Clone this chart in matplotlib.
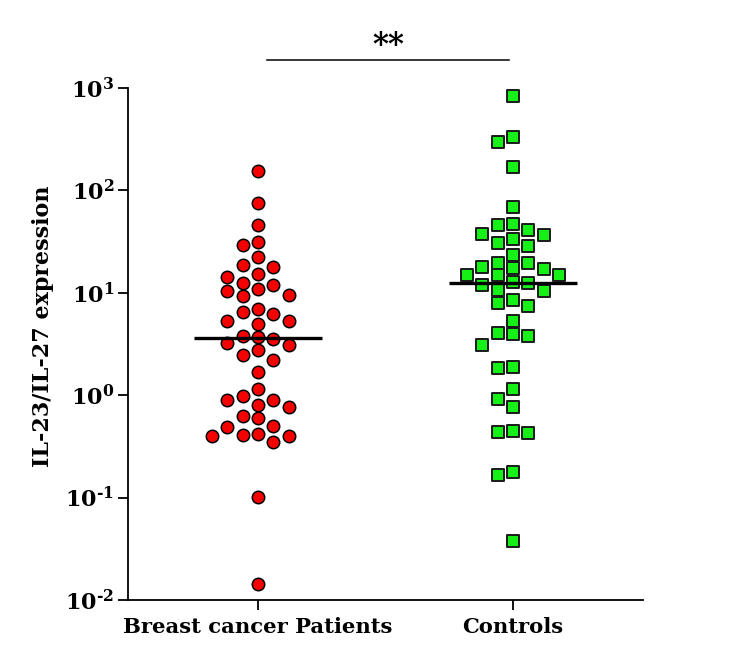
import numpy as np
import matplotlib
matplotlib.use('Agg')
import matplotlib.pyplot as plt
from matplotlib.ticker import FixedLocator, FuncFormatter, NullLocator
from matplotlib.transforms import blended_transform_factory

plt.rcParams['font.family'] = 'DejaVu Serif'
plt.rcParams['font.weight'] = 'bold'
plt.rcParams['mathtext.fontset'] = 'custom'
plt.rcParams['mathtext.bf'] = 'DejaVu Serif:bold'
plt.rcParams['mathtext.rm'] = 'DejaVu Serif:bold'

groups = ['Breast cancer Patients', 'Controls']

patients = [155, 75.5, 46, 31, 29, 22.4, 18.5, 17.7, 15.2, 14.4, 12.6, 12.0,
            10.9, 10.5, 9.58, 9.23, 6.87, 6.53, 6.21, 5.34, 5.34, 4.92, 3.79,
            3.67, 3.53, 3.26, 3.11, 2.76, 2.45, 2.21, 1.70, 1.14, 0.975, 0.904,
            0.891, 0.807, 0.762, 0.627, 0.594, 0.496, 0.492, 0.418, 0.408,
            0.399, 0.399, 0.351, 0.1016, 0.0143]

controls = [841, 334, 297, 168, 68.9, 47.0, 45.9, 41.0, 37.5, 36.9, 33.3,
            30.9, 28.8, 23.5, 19.5, 19.4, 17.9, 17.3, 17.2, 15.0, 14.9, 14.8,
            12.7, 12.5, 12.0, 10.6, 10.5, 8.51, 7.95, 7.43, 5.27, 4.02, 3.96,
            3.79, 3.11, 1.90, 1.86, 1.14, 0.918, 0.772, 0.444, 0.437, 0.425,
            0.179, 0.166, 0.0377]

yticks = [1e-2, 1e-1, 1e0, 1e1, 1e2, 1e3]
sig_label = '**'

W, H = 729, 662
fig = plt.figure(figsize=(W / 100, H / 100), dpi=100)
ax_l, ax_r, ax_t, ax_b = 128, 643, 88, 600
ax = fig.add_axes([ax_l / W, 1 - ax_b / H, (ax_r - ax_l) / W, (ax_b - ax_t) / H])

xmin, xmax = -0.51, 1.51
ax.set_xlim(xmin, xmax)
ax.set_yscale('log')
ax.set_ylim(1e-2, 1e3)

# pixel geometry used to lay out the swarm
decade_px = (ax_b - ax_t) / 5.0
col_step = 15.4 * (xmax - xmin) / (ax_r - ax_l)


def swarm(values, gap_px=12.2):
    ypix = np.log10(values) * decade_px
    cols = np.zeros(len(values))
    placed = []
    for i in np.argsort(-ypix):
        for c in [0, -1, 1, -2, 2, -3, 3, -4, 4, -5, 5]:
            if all(abs(ypix[i] - yp) >= gap_px for yp, cc in placed if cc == c):
                break
        cols[i] = c
        placed.append((ypix[i], c))
    return cols * col_step


styles = [dict(marker='o', s=80, c='#f50000', edgecolors='black', linewidths=1.1),
          dict(marker='s', s=66, c='#16f016', edgecolors='#1a1a1a', linewidths=1.4)]

for i, (vals, st) in enumerate(zip([patients, controls], styles)):
    vals = np.array(vals)
    ax.scatter(i + swarm(vals), vals, zorder=3, **st)
    ax.hlines(np.median(vals), i - 0.25, i + 0.25, color='black', lw=2.4, zorder=4)

ax.spines['top'].set_visible(False)
ax.spines['right'].set_visible(False)
for s in ['left', 'bottom']:
    ax.spines[s].set_linewidth(1.3)

ax.xaxis.set_major_locator(FixedLocator([0, 1]))
ax.set_xticklabels(groups, fontsize=15.2, fontweight='bold')
ax.yaxis.set_major_locator(FixedLocator(yticks))
ax.yaxis.set_minor_locator(NullLocator())
ax.yaxis.set_major_formatter(FuncFormatter(
    lambda v, p: r'$\mathbf{10^{\text{%d}}}$' % round(np.log10(v))))
ax.tick_params(axis='y', labelsize=16, length=7, width=1.3, pad=3)
ax.tick_params(axis='x', length=7, width=1.3, pad=5)
ax.set_ylabel('IL-23/IL-27 expression', fontsize=16, fontweight='bold', labelpad=8)
ax.yaxis.label.set_y(0.535)

tr = blended_transform_factory(ax.transData, ax.transAxes)
ax.plot([0.035, 0.984], [1.055, 1.055], color='black', lw=1.1, transform=tr, clip_on=False)
ax.text(0.51, 1.052, sig_label, transform=tr, ha='center', va='bottom', fontsize=22, fontweight='bold')

fig.savefig('out.png', dpi=100)
